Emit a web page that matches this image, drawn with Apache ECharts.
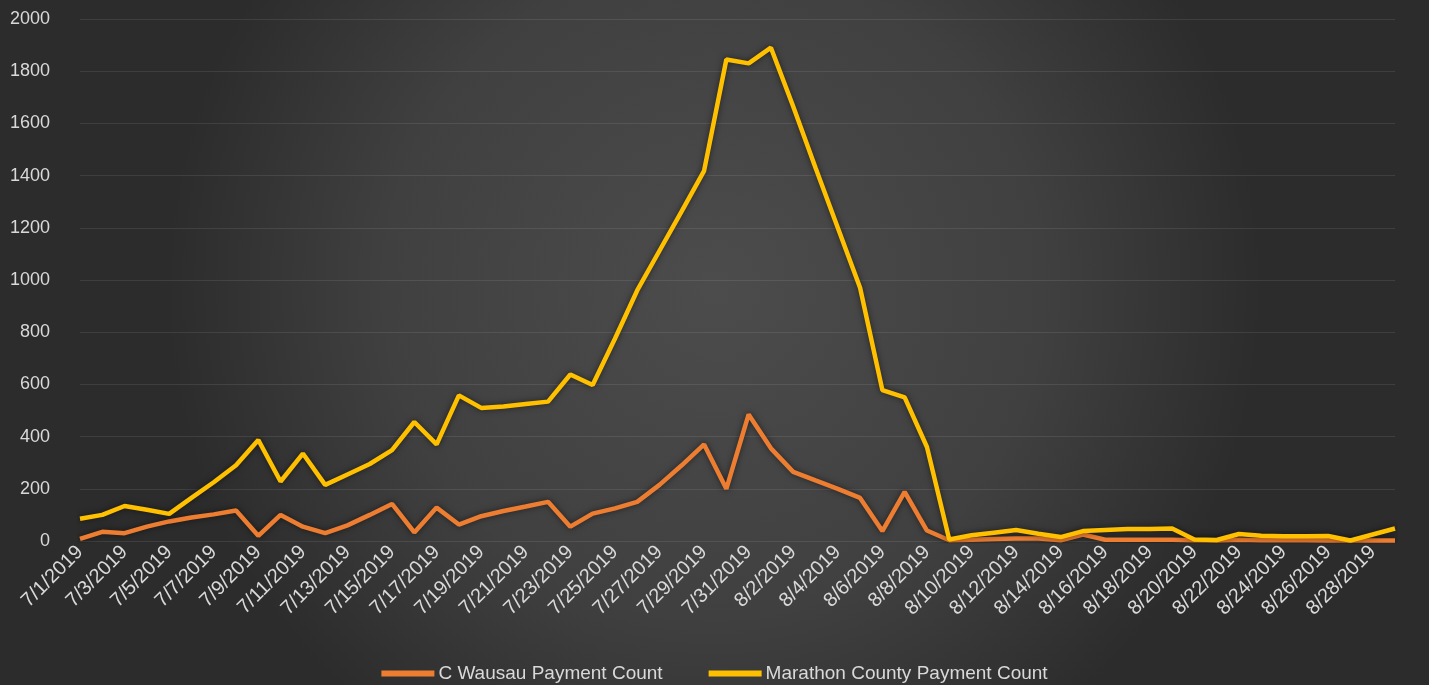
<!DOCTYPE html>
<html>
<head>
<meta charset="utf-8">
<style>
  html, body { margin: 0; padding: 0; background: #2b2b2b; }
  #chart { width: 1429px; height: 685px; }
</style>
<script src="https://cdn.jsdelivr.net/npm/echarts@6/dist/echarts.min.js"></script>
</head>
<body>
<div id="chart"></div>
<script>
const categories = [
  '7/1/2019','7/2/2019','7/3/2019','7/4/2019','7/5/2019','7/6/2019','7/7/2019','7/8/2019','7/9/2019','7/10/2019',
  '7/11/2019','7/12/2019','7/13/2019','7/14/2019','7/15/2019','7/16/2019','7/17/2019','7/18/2019','7/19/2019','7/20/2019',
  '7/21/2019','7/22/2019','7/23/2019','7/24/2019','7/25/2019','7/26/2019','7/27/2019','7/28/2019','7/29/2019','7/30/2019',
  '7/31/2019','8/1/2019','8/2/2019','8/3/2019','8/4/2019','8/5/2019','8/6/2019','8/7/2019','8/8/2019','8/9/2019',
  '8/10/2019','8/11/2019','8/12/2019','8/13/2019','8/14/2019','8/15/2019','8/16/2019','8/17/2019','8/18/2019','8/19/2019',
  '8/20/2019','8/21/2019','8/22/2019','8/23/2019','8/24/2019','8/25/2019','8/26/2019','8/27/2019','8/28/2019','8/29/2019'
];

const wausauCounts = [
  8, 35, 30, 55, 75, 90, 102, 117, 20, 100,
  55, 30, 60, 100, 142, 33, 128, 63, 95, 115,
  132, 150, 55, 105, 125, 150, 215, 290, 370, 200,
  485, 355, 265, 232, 200, 165, 38, 188, 40, 3,
  5, 8, 10, 10, 3, 25, 5, 5, 5, 5,
  3, 2, 5, 3, 3, 3, 2, 2, 2, 2
];

const marathonCounts = [
  85, 100, 134, 120, 104, 165, 225, 290, 387, 228,
  335, 215, 255, 295, 348, 456, 370, 558, 510, 515,
  525, 534, 638, 598, 775, 960, 1112, 1264, 1418, 1845,
  1830, 1890, 1665, 1430, 1200, 970, 578, 550, 360, 6,
  22, 32, 42, 28, 15, 38, 42, 46, 46, 48,
  6, 4, 27, 20, 18, 18, 19, 2, 25, 48
];

const yTicks = { min: 0, max: 2000, interval: 200 };

const seriesNames = ['C Wausau Payment Count', 'Marathon County Payment Count'];
const seriesColors = ['#ED7D31', '#FFC000'];

const chart = echarts.init(document.getElementById('chart'), null, { renderer: 'canvas' });

const textColor = '#d9d9d9';
const fontFamily = "'Liberation Sans', Arial, sans-serif";

chart.setOption({
  backgroundColor: {
    type: 'radial', x: 0.5, y: 0.42, r: 0.8,
    colorStops: [
      { offset: 0, color: '#4c4c4c' },
      { offset: 0.6, color: '#404040' },
      { offset: 1, color: '#2c2c2c' }
    ]
  },
  animation: false,
  grid: { left: 80, right: 34, top: 19, bottom: 144, containLabel: false },
  legend: {
    data: seriesNames,
    left: 'center',
    top: 659,
    icon: 'rect',
    itemWidth: 53,
    itemHeight: 6,
    itemGap: 46,
    textStyle: { color: textColor, fontSize: 19, fontFamily: fontFamily, padding: [0, 0, 0, -1] }
  },
  xAxis: {
    type: 'category',
    data: categories,
    boundaryGap: false,
    axisLine: { show: false },
    axisTick: { show: false },
    axisLabel: {
      interval: 1,
      rotate: 45,
      color: textColor,
      fontSize: 20,
      fontFamily: fontFamily,
      margin: 8
    },
    splitLine: { show: false }
  },
  yAxis: {
    type: 'value',
    min: yTicks.min,
    max: yTicks.max,
    interval: yTicks.interval,
    axisLine: { show: false },
    axisTick: { show: false },
    axisLabel: {
      color: textColor,
      fontSize: 18,
      fontFamily: fontFamily,
      margin: 30,
      formatter: function (v) { return String(v); }
    },
    splitLine: { lineStyle: { color: 'rgba(255,255,255,0.09)', width: 1 } }
  },
  series: [
    {
      name: seriesNames[0],
      type: 'line',
      data: wausauCounts,
      symbol: 'none',
      color: seriesColors[0],
      lineStyle: { width: 4.5, color: seriesColors[0], shadowColor: 'rgba(0,0,0,0.55)', shadowBlur: 6 },
      z: 2
    },
    {
      name: seriesNames[1],
      type: 'line',
      data: marathonCounts,
      symbol: 'none',
      color: seriesColors[1],
      lineStyle: { width: 4.5, color: seriesColors[1], shadowColor: 'rgba(0,0,0,0.55)', shadowBlur: 6 },
      z: 3
    }
  ]
});
</script>
</body>
</html>
